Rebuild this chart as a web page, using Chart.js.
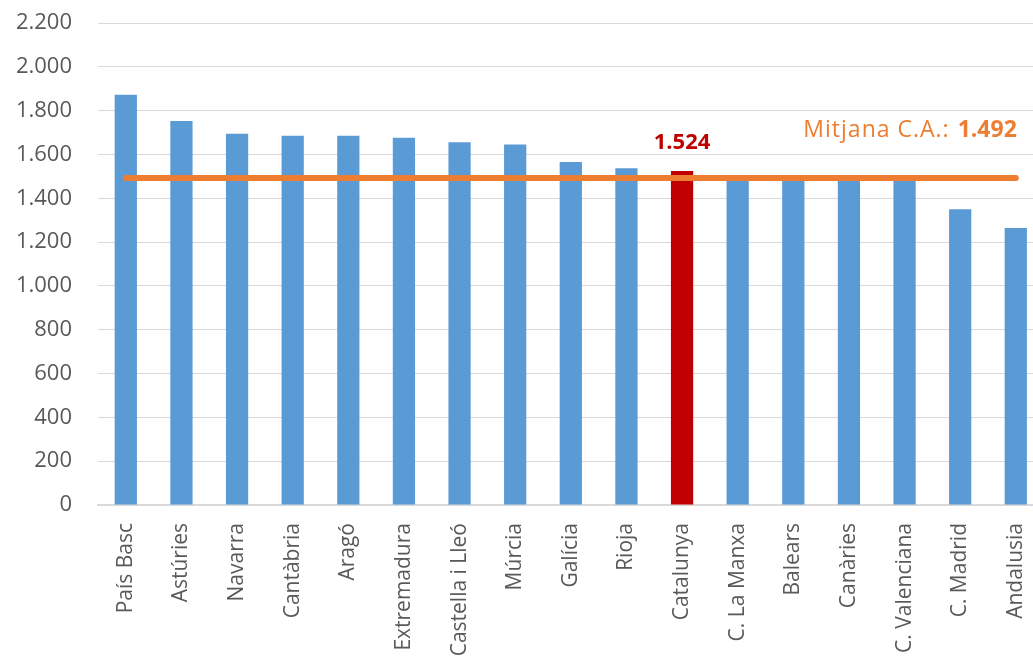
<!DOCTYPE html>
<html>
<head>
<meta charset="utf-8">
<script src="https://cdn.jsdelivr.net/npm/chart.js@4/dist/chart.umd.min.js"></script>
<style>
  html, body { margin: 0; padding: 0; overflow: hidden; background: #fff; }
  #wrap { width: 1059px; height: 662px; }
</style>
</head>
<body>
<div id="wrap"><canvas id="myChart"></canvas></div>
<script>
'use strict';

var REGIONS = ['País Basc', 'Astúries', 'Navarra', 'Cantàbria', 'Aragó', 'Extremadura',
  'Castella i Lleó', 'Múrcia', 'Galícia', 'Rioja', 'Catalunya', 'C. La Manxa',
  'Balears', 'Canàries', 'C. Valenciana', 'C. Madrid', 'Andalusia'];
var VALUES = [1872, 1753, 1694, 1685, 1685, 1676, 1656, 1645, 1566, 1537, 1524,
  1495, 1492, 1490, 1485, 1350, 1264];
var MEAN = 1492;
var HIGHLIGHT = 'Catalunya';
var Y_TICKS = [0, 200, 400, 600, 800, 1000, 1200, 1400, 1600, 1800, 2000, 2200];

var BLUE = '#5B9BD5';
var RED = '#C00000';
var ORANGE = '#ED7D31';
var GREY_TEXT = '#595959';
var FONT = '"Open Sans", sans-serif';

function fmt(v) {
  // catalan thousands separator
  return String(v).replace(/\B(?=(\d{3})+(?!\d))/g, '.');
}

var barColors = REGIONS.map(function (r) { return r === HIGHLIGHT ? RED : BLUE; });
var meanLine = REGIONS.map(function () { return MEAN; });

var labelsPlugin = {
  id: 'labels',
  afterDatasetsDraw: function (chart) {
    var ctx = chart.ctx;
    var xs = chart.scales.x;
    var ys = chart.scales.y;
    var i = REGIONS.indexOf(HIGHLIGHT);

    ctx.save();
    ctx.textBaseline = 'middle';

    // value above the highlighted bar
    ctx.font = 'bold 22px ' + FONT;
    ctx.fillStyle = RED;
    ctx.textAlign = 'center';
    ctx.fillText(fmt(VALUES[i]), xs.getPixelForValue(i), ys.getPixelForValue(VALUES[i]) - 28);

    // mean label, right aligned to the end of the line
    var right = xs.getPixelForValue(REGIONS.length - 1) + 1;
    var y = ys.getPixelForValue(MEAN) - 48;
    ctx.textAlign = 'right';
    ctx.font = 'bold 23px ' + FONT;
    ctx.fillStyle = ORANGE;
    var num = fmt(MEAN);
    ctx.fillText(num, right, y);
    var w = ctx.measureText(num).width;
    ctx.font = '23px ' + FONT;
    ctx.letterSpacing = '1px';
    ctx.fillText('Mitjana C.A.: ', right - w - 1, y);
    ctx.restore();
  }
};

new Chart(document.getElementById('myChart'), {
  type: 'bar',
  data: {
    labels: REGIONS,
    datasets: [
      {
        type: 'line',
        data: meanLine,
        borderColor: ORANGE,
        borderWidth: 6,
        borderCapStyle: 'round',
        pointRadius: 0,
        fill: false,
        order: 0
      },
      {
        data: VALUES,
        backgroundColor: barColors,
        categoryPercentage: 1,
        barPercentage: 0.4,
        order: 1
      }
    ]
  },
  options: {
    responsive: true,
    maintainAspectRatio: false,
    animation: false,
    layout: { padding: { top: 23, left: 0, right: 0, bottom: 0 } },
    plugins: {
      legend: { display: false },
      tooltip: { enabled: false }
    },
    scales: {
      x: {
        grid: { display: false, drawTicks: false },
        border: { color: '#D9D9D9', width: 2 },
        ticks: {
          autoSkip: false,
          minRotation: 90,
          maxRotation: 90,
          padding: 18,
          color: GREY_TEXT,
          font: { family: FONT, size: 21 }
        },
        afterFit: function (scale) { scale.height = 157; }
      },
      y: {
        min: 0,
        max: 2200,
        grid: { color: '#D9D9D9', drawTicks: false },
        border: { display: false },
        afterBuildTicks: function (scale) {
          scale.ticks = Y_TICKS.map(function (v) { return { value: v }; });
        },
        ticks: {
          padding: 26,
          color: GREY_TEXT,
          font: { family: FONT, size: 22 },
          callback: function (v) { return fmt(v); }
        },
        afterFit: function (scale) {
          scale.width = 98;
          scale.paddingTop = 0;
          scale.paddingBottom = 0;
        }
      }
    }
  },
  plugins: [labelsPlugin]
});
</script>
</body>
</html>
